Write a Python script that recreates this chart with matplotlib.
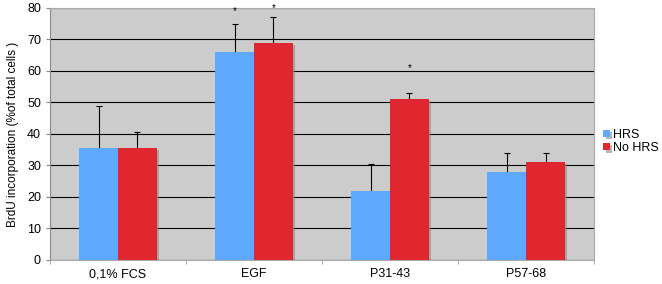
import matplotlib
matplotlib.use('Agg')
import matplotlib.pyplot as plt
import matplotlib.patheffects as pe
import numpy as np

plt.rcParams['font.family'] = ['Liberation Sans', 'DejaVu Sans']

categories = ['0,1% FCS', 'EGF', 'P31-43', 'P57-68']
hrs = [35.5, 66, 22, 28]
hrs_err = [13.3, 9, 8.5, 6]
no_hrs = [35.5, 69, 51, 31]
no_hrs_err = [5, 8, 2, 3]
# asterisk heights (value units), None = no asterisk
hrs_star = [None, 79, None, None]
no_hrs_star = [None, 80, 61, None]

fig = plt.figure(figsize=(6.62, 2.84), dpi=100)
ax = fig.add_axes([0.0755, 0.085, 0.822, 0.887])
ax.set_facecolor('#cccccc')

x = np.arange(len(categories))
w = 0.285
shadow = [pe.SimplePatchShadow(offset=(1.5, -1.5), shadow_rgbFace='#888888', alpha=0.6), pe.Normal()]
ax.bar(x - w / 2, hrs, w, color='#5fa8ff', label='HRS', zorder=3, path_effects=shadow)
ax.bar(x + w / 2, no_hrs, w, color='#e0262e', label='No HRS', zorder=3, path_effects=shadow)
# symmetric error bars drawn behind the bars, so only the upper half shows
ax.errorbar(x - w / 2, hrs, yerr=hrs_err, fmt='none', ecolor='black',
            elinewidth=0.8, capsize=2.5, capthick=0.8, zorder=2.5)
ax.errorbar(x + w / 2, no_hrs, yerr=no_hrs_err, fmt='none', ecolor='black',
            elinewidth=0.8, capsize=2.5, capthick=0.8, zorder=2.5)

for xi, s in zip(x - w / 2, hrs_star):
    if s is not None:
        ax.text(xi, s, '*', ha='center', va='center', fontsize=7)
for xi, s in zip(x + w / 2, no_hrs_star):
    if s is not None:
        ax.text(xi, s, '*', ha='center', va='center', fontsize=7)

ax.set_ylim(0, 80)
ax.set_xlim(-0.5, len(categories) - 0.5)
ax.set_yticks(range(0, 81, 10))
ax.yaxis.grid(True, color='black', linewidth=0.8, zorder=1)
ax.set_axisbelow(True)
ax.set_xticks(x)
ax.set_xticklabels(categories, fontsize=9)
ax.set_xticks(np.arange(-0.5, len(categories), 1), minor=True)
ax.tick_params(axis='x', which='major', length=0, pad=6)
ax.tick_params(axis='x', which='minor', length=3, color='#999999', direction='out')
ax.tick_params(axis='y', labelsize=9, length=3, color='#888888', direction='out')
for sp in ['top', 'right']:
    ax.spines[sp].set_color('#aaaaaa')
    ax.spines[sp].set_linewidth(0.8)
ax.spines['left'].set_color('#888888')
ax.spines['bottom'].set_color('#aaaaaa')
ax.set_ylabel('BrdU incorporation (%of total cells )', fontsize=8.5, labelpad=6)

ax.legend(loc='center left', bbox_to_anchor=(1.008, 0.47), frameon=False, fontsize=9,
          handlelength=0.55, handleheight=0.55, handletextpad=0.2, labelspacing=0.1,
          borderaxespad=0.2, borderpad=0.2)

fig.savefig('out.png', dpi=100)
